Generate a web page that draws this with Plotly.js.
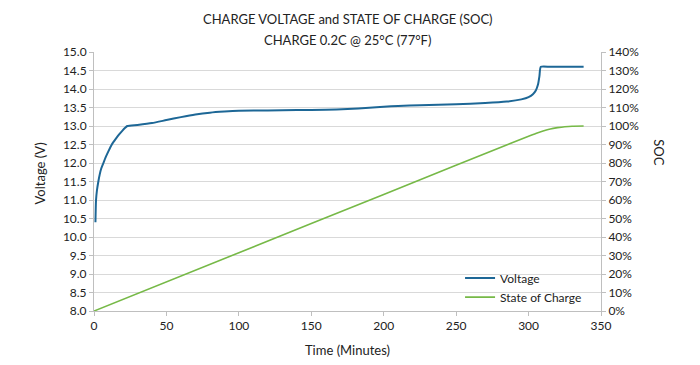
<!DOCTYPE html>
<html>
<head>
<meta charset="utf-8">
<script src="https://cdn.plot.ly/plotly-3.0.1.min.js"></script>
<style>html,body{margin:0;padding:0;background:#fff;}#chart{width:700px;height:365px;}</style>
</head>
<body>
<div id="chart"></div>
<script>
// Voltage curve (minutes, volts)
const voltTime = [1, 1.4, 2, 3, 4, 5, 6.5, 8, 10, 12.3, 15, 17.5, 19.5, 21.5, 23, 30, 40, 50, 60, 70, 80, 90, 100, 120, 140, 160, 175, 190, 200, 210, 225, 250, 270, 285, 295, 300, 303, 305, 306.5, 307.5, 308.5, 315, 325, 338];
const voltage  = [10.4, 11.0, 11.25, 11.5, 11.7, 11.85, 12.0, 12.15, 12.32, 12.5, 12.65, 12.78, 12.87, 12.95, 13.0, 13.03, 13.08, 13.16, 13.24, 13.31, 13.36, 13.39, 13.41, 13.42, 13.43, 13.44, 13.46, 13.49, 13.52, 13.54, 13.56, 13.59, 13.62, 13.66, 13.72, 13.78, 13.86, 13.96, 14.12, 14.35, 14.6, 14.6, 14.6, 14.6];
// State of charge (minutes, percent)
const socTime = [0, 100, 200, 300, 305, 310, 315, 320, 325, 330, 338];
const soc     = [0, 31.5, 63, 94.5, 96.0, 97.3, 98.4, 99.1, 99.6, 99.9, 100];

const voltTicks = [8.0, 8.5, 9.0, 9.5, 10.0, 10.5, 11.0, 11.5, 12.0, 12.5, 13.0, 13.5, 14.0, 14.5, 15.0];
const timeTicks = [0, 50, 100, 150, 200, 250, 300, 350];
const titleLines = ['CHARGE VOLTAGE and STATE OF CHARGE (SOC)', 'CHARGE 0.2C @ 25°C (77°F)'];

const FONT = "Lato, 'Open Sans', sans-serif";
const gridColor = '#d9d9d9';
const axisColor = '#bfbfbf';

const traces = [
  {x: voltTime, y: voltage, type: 'scatter', mode: 'lines', name: 'Voltage',
   line: {color: '#1d6796', width: 2, shape: 'spline', smoothing: 0.6}, yaxis: 'y'},
  {x: socTime, y: soc, type: 'scatter', mode: 'lines', name: 'State of Charge',
   line: {color: '#76b947', width: 1.6, shape: 'spline', smoothing: 0.5}, yaxis: 'y2'}
];

const layout = {
  width: 700, height: 365,
  margin: {l: 93.5, r: 98.5, t: 52, b: 54},
  paper_bgcolor: '#fff', plot_bgcolor: '#fff',
  font: {family: FONT, size: 12, color: '#222'},
  showlegend: true,
  legend: {x: 0.722, y: 0.183, xanchor: 'left', yanchor: 'top', bgcolor: 'rgba(0,0,0,0)',
           font: {family: FONT, size: 12, color: '#222'}, tracegroupgap: 0},
  xaxis: {range: [0, 350], tickvals: timeTicks, ticktext: timeTicks.map(String),
          showgrid: false, zeroline: false, showline: true, linecolor: axisColor, linewidth: 1,
          ticks: 'outside', ticklen: 4, tickcolor: axisColor,
          title: {text: 'Time (Minutes)', font: {family: FONT, size: 13, color: '#222'}, standoff: 13},
          tickfont: {family: FONT, size: 12}},
  yaxis: {range: [8, 15], tickvals: voltTicks, ticktext: voltTicks.map(v => v.toFixed(1)),
          showgrid: true, gridcolor: gridColor, gridwidth: 1, zeroline: false,
          showline: true, linecolor: axisColor, ticks: 'outside', ticklen: 4, tickcolor: axisColor,
          tickfont: {family: FONT, size: 12}},
  yaxis2: {range: [0, 140], dtick: 10, ticksuffix: '%', overlaying: 'y', side: 'right',
           showgrid: false, zeroline: false, showline: true, linecolor: axisColor,
           ticks: 'outside', ticklen: 4, tickcolor: axisColor, tickfont: {family: FONT, size: 12}},
  annotations: [
    {text: titleLines[0], xref: 'paper', yref: 'paper', x: 0.5, y: 1 + 33/259, showarrow: false,
     font: {family: FONT, size: 13, color: '#222'}, xanchor: 'center', yanchor: 'middle'},
    {text: titleLines[1], xref: 'paper', yref: 'paper', x: 0.5, y: 1 + 12/259, showarrow: false,
     font: {family: FONT, size: 13, color: '#222'}, xanchor: 'center', yanchor: 'middle'},
    {text: 'Voltage (V)', xref: 'paper', yref: 'paper', x: -0.107, y: 0.53, showarrow: false,
     textangle: -90, font: {family: FONT, size: 13, color: '#222'}, xanchor: 'center', yanchor: 'middle'},
    {text: 'SOC', xref: 'paper', yref: 'paper', x: 1.114, y: 0.614, showarrow: false,
     textangle: 90, font: {family: FONT, size: 13, color: '#222'}, xanchor: 'center', yanchor: 'middle'}
  ]
};

Plotly.newPlot('chart', traces, layout, {displayModeBar: false, staticPlot: true});
</script>
</body>
</html>
